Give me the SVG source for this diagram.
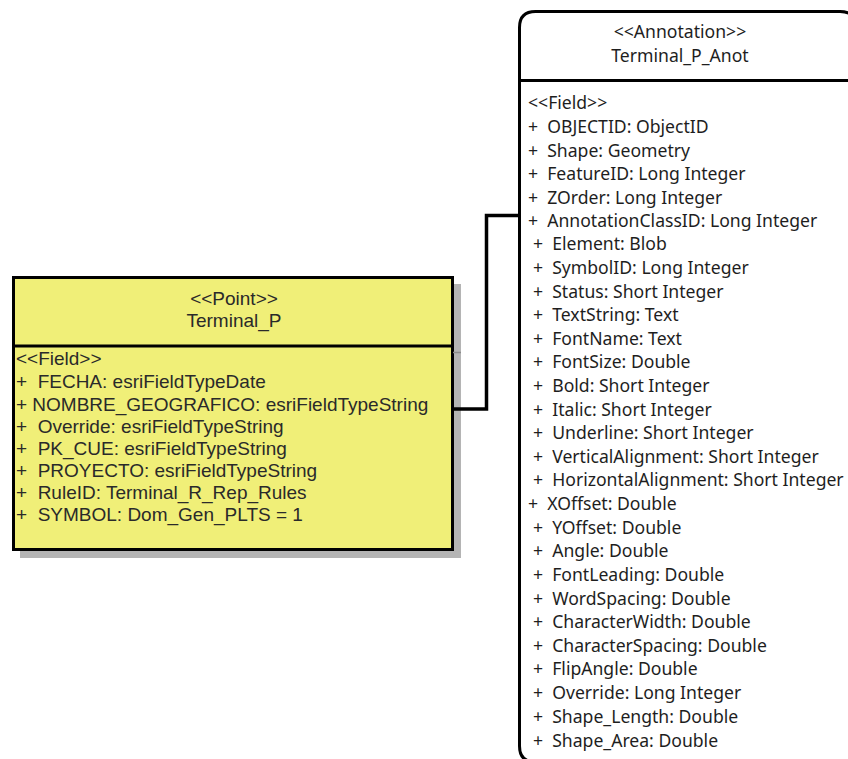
<svg xmlns="http://www.w3.org/2000/svg" width="848" height="759" viewBox="0 0 848 759">
<style>
.box{stroke:#000;stroke-width:3;}
text{white-space:pre;}
.l{font-family:"Liberation Sans",Arial,sans-serif;font-size:19px;fill:#2a2a2a;}
.r{font-family:"Noto Sans","Open Sans",sans-serif;font-size:17.6px;fill:#1e1e1e;}
.c{text-anchor:middle;}
.conn{fill:none;stroke:#000;stroke-width:3.5;}
</style>
<rect width="848" height="759" fill="#fff"/>
<g id="Terminal_P">
<rect x="20" y="284" width="441" height="274" fill="#b4b4b4"/>
<rect class="box" x="13.5" y="277.5" width="439" height="272" fill="#f0ef78"/>
<line x1="453" y1="352.5" x2="461" y2="352.5" stroke="#8c8c8c" stroke-width="1.5"/>
<line class="box" x1="13" y1="346" x2="453" y2="346"/>
<text class="l c" x="234" y="305">&lt;&lt;Point&gt;&gt;</text>
<text class="l c" x="234" y="327">Terminal_P</text>
<text class="l" x="16" y="365">&lt;&lt;Field&gt;&gt;</text>
<text class="l" x="16" y="388">+  FECHA: esriFieldTypeDate</text>
<text class="l" x="16" y="411">+ NOMBRE_GEOGRAFICO: esriFieldTypeString</text>
<text class="l" x="16" y="433">+  Override: esriFieldTypeString</text>
<text class="l" x="16" y="455">+  PK_CUE: esriFieldTypeString</text>
<text class="l" x="16" y="477">+  PROYECTO: esriFieldTypeString</text>
<text class="l" x="16" y="499">+  RuleID: Terminal_R_Rep_Rules</text>
<text class="l" x="16" y="521">+  SYMBOL: Dom_Gen_PLTS = 1</text>
</g>
<g id="Terminal_P_Anot">
<path class="box" d="M519.5,746 V27.5 Q519.5,11.5 535.5,11.5 H840 Q856,11.5 856,27.5 V762 H535.5 Q519.5,762 519.5,746 Z" fill="#fff"/>
<line class="box" x1="519" y1="80.5" x2="848" y2="80.5"/>
<text class="r c" x="680" y="38">&lt;&lt;Annotation&gt;&gt;</text>
<text class="r c" x="680" y="62">Terminal_P_Anot</text>
<text class="r" x="528" y="109">&lt;&lt;Field&gt;&gt;</text>
<text class="r" x="528" y="133">+  OBJECTID: ObjectID</text>
<text class="r" x="528" y="157">+  Shape: Geometry</text>
<text class="r" x="528" y="180">+  FeatureID: Long Integer</text>
<text class="r" x="528" y="204">+  ZOrder: Long Integer</text>
<text class="r" x="528" y="227">+  AnnotationClassID: Long Integer</text>
<text class="r" x="533" y="250">+  Element: Blob</text>
<text class="r" x="533" y="274">+  SymbolID: Long Integer</text>
<text class="r" x="533" y="298">+  Status: Short Integer</text>
<text class="r" x="533" y="321">+  TextString: Text</text>
<text class="r" x="533" y="345">+  FontName: Text</text>
<text class="r" x="533" y="368">+  FontSize: Double</text>
<text class="r" x="533" y="392">+  Bold: Short Integer</text>
<text class="r" x="533" y="416">+  Italic: Short Integer</text>
<text class="r" x="533" y="439">+  Underline: Short Integer</text>
<text class="r" x="533" y="463">+  VerticalAlignment: Short Integer</text>
<text class="r" x="533" y="486">+  HorizontalAlignment: Short Integer</text>
<text class="r" x="528" y="510">+  XOffset: Double</text>
<text class="r" x="533" y="534">+  YOffset: Double</text>
<text class="r" x="533" y="557">+  Angle: Double</text>
<text class="r" x="533" y="581">+  FontLeading: Double</text>
<text class="r" x="533" y="605">+  WordSpacing: Double</text>
<text class="r" x="533" y="628">+  CharacterWidth: Double</text>
<text class="r" x="533" y="652">+  CharacterSpacing: Double</text>
<text class="r" x="533" y="675">+  FlipAngle: Double</text>
<text class="r" x="533" y="699">+  Override: Long Integer</text>
<text class="r" x="533" y="723">+  Shape_Length: Double</text>
<text class="r" x="533" y="747">+  Shape_Area: Double</text>
</g>
<g id="connectors">
<polyline class="conn" points="451,409 486.5,409 486.5,215.5 520,215.5"/>
</g>
</svg>
